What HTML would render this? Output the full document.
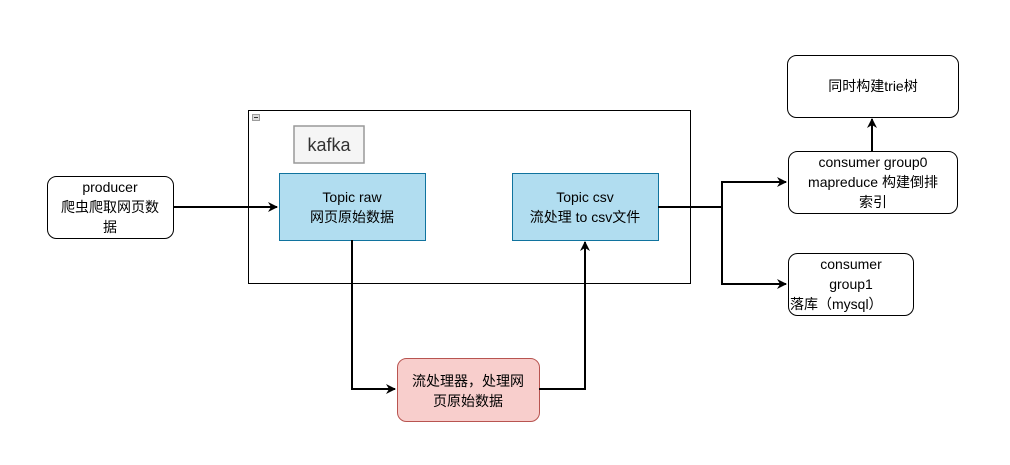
<!DOCTYPE html>
<html><head><meta charset="utf-8"><style>
body{margin:0;background:#fff}
svg text{font-family:"Liberation Sans","Noto Sans CJK SC",sans-serif;font-size:14px;fill:#000}
</style></head><body>
<svg width="1010" height="460" viewBox="0 0 1010 460" xmlns="http://www.w3.org/2000/svg">
<defs><marker id="a" markerWidth="10" markerHeight="10" refX="9" refY="5" orient="auto" markerUnits="userSpaceOnUse"><path d="M0,0 L10,5 L0,10 L3,5 Z" fill="#000"/></marker></defs>
<rect x="248.5" y="110.5" width="442" height="173" fill="#fff" stroke="#000"/>
<rect x="252.5" y="114.5" width="7" height="6" fill="#ddd" stroke="#888" stroke-width="0.8"/>
<line x1="254" y1="117.5" x2="258" y2="117.5" stroke="#333"/>
<rect x="294" y="126" width="70" height="37" fill="#f5f5f5" stroke="#999" stroke-width="1.5"/>
<text x="329" y="151" text-anchor="middle" style="font-size:18px;fill:#333">kafka</text>
<rect x="279.5" y="173.5" width="146" height="67" fill="#b1ddf0" stroke="#10739e"/>
<text x="352" y="202" text-anchor="middle">Topic raw</text>
<text x="352" y="222" text-anchor="middle">网页原始数据</text>
<rect x="512.5" y="173.5" width="146" height="67" fill="#b1ddf0" stroke="#10739e"/>
<text x="585" y="202" text-anchor="middle">Topic csv</text>
<text x="585" y="222" text-anchor="middle">流处理 to csv文件</text>
<rect x="47.5" y="176.5" width="126" height="62" rx="9" fill="#fff" stroke="#000"/>
<text x="110" y="192" text-anchor="middle">producer</text>
<text x="110" y="212" text-anchor="middle">爬虫爬取网页数</text>
<text x="110" y="232" text-anchor="middle">据</text>
<rect x="397.5" y="358.5" width="142" height="63" rx="9" fill="#f8cecc" stroke="#b85450"/>
<text x="468" y="386" text-anchor="middle">流处理器，处理网</text>
<text x="468" y="406" text-anchor="middle">页原始数据</text>
<rect x="787.5" y="55.5" width="171" height="62" rx="9" fill="#fff" stroke="#000"/>
<text x="873" y="91" text-anchor="middle">同时构建trie树</text>
<rect x="788.5" y="151.5" width="169" height="62" rx="9" fill="#fff" stroke="#000"/>
<text x="873" y="167" text-anchor="middle">consumer group0</text>
<text x="873" y="187" text-anchor="middle">mapreduce 构建倒排</text>
<text x="873" y="207" text-anchor="middle">索引</text>
<rect x="788.5" y="253.5" width="125" height="62" rx="9" fill="#fff" stroke="#000"/>
<text x="851" y="269" text-anchor="middle">consumer</text>
<text x="851" y="289" text-anchor="middle">group1</text>
<text x="790" y="309">落库（mysql）</text>
<g stroke="#000" stroke-width="2" fill="none">
<path d="M173,207 H277" marker-end="url(#a)"/>
<path d="M352,240 V389 H395" marker-end="url(#a)"/>
<path d="M539,389 H585 V242" marker-end="url(#a)"/>
<path d="M658,207 H722 V182 H786" marker-end="url(#a)"/>
<path d="M722,207 V284 H786" marker-end="url(#a)"/>
<path d="M872,151 V119" marker-end="url(#a)"/>
</g>
</svg>
</body></html>
